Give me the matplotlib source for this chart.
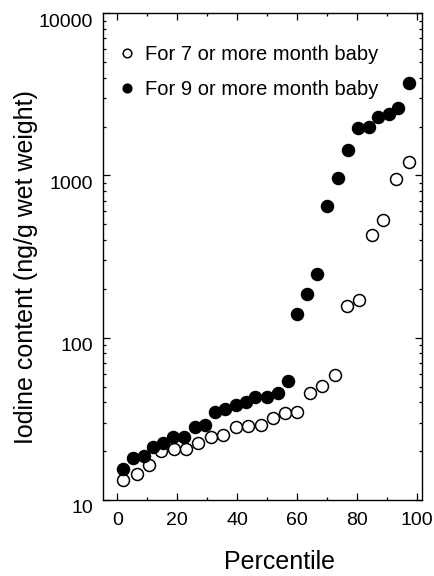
import numpy as np
import matplotlib.pyplot as plt
import matplotlib.transforms as mtransforms
from matplotlib.ticker import LogLocator, NullFormatter, MultipleLocator

plt.rcParams['font.family'] = ['Liberation Sans', 'DejaVu Sans']

# Percentile vs iodine content (ng/g wet weight)
pct_7m = [2.0, 6.4, 10.7, 14.6, 18.9, 22.8, 27.0, 31.2, 35.1, 39.6, 43.7, 47.8,
          52.0, 55.9, 60.1, 64.5, 68.5, 72.8, 76.8, 80.7, 85.0, 88.8, 93.0, 97.5]
iod_7m = [13.3, 14.5, 16.4, 19.9, 20.5, 20.5, 22.3, 24.4, 25.2, 28.0, 28.5, 29.1,
          31.8, 34.2, 34.8, 45.5, 50.6, 58.7, 157, 171, 428, 531, 948, 1216]

pct_9m = [2.0, 5.3, 8.9, 12.0, 15.3, 18.7, 22.3, 25.9, 29.3, 32.6, 36.1, 39.5,
          42.8, 46.1, 50.1, 53.5, 57.0, 60.1, 63.5, 66.8, 70.1, 73.6, 77.1, 80.5,
          83.9, 87.1, 90.6, 93.9, 97.4]
iod_9m = [15.6, 18.1, 18.6, 21.1, 22.5, 24.5, 24.5, 28.1, 28.8, 34.8, 36.6, 38.3,
          40.4, 43.2, 43.2, 45.5, 53.8, 141, 187, 246, 644, 968, 1436, 1967,
          2004, 2291, 2392, 2606, 3727]

labels = ['For 7 or more month baby', 'For 9 or more month baby']

fig = plt.figure(figsize=(4.35, 5.76), dpi=100)
ax = fig.add_axes([0.237, 0.132, 0.732, 0.845])

ax.plot(pct_7m, iod_7m, 'o', ms=8.6, mfc='white', mec='black', mew=1.1, label=labels[0])
ax.plot(pct_9m, iod_9m, 'o', ms=8.6, mfc='black', mec='black', mew=1.1, label=labels[1])

ax.set_yscale('log')
ax.set_ylim(10, 10000)
ax.set_xlim(-4.8, 101.6)
ax.set_yticks([10, 100, 1000, 10000])
ax.set_yticklabels(['10', '100', '1000', '10000'])
ax.yaxis.set_minor_locator(LogLocator(base=10, subs=np.arange(2, 10)))
ax.yaxis.set_minor_formatter(NullFormatter())
ax.xaxis.set_major_locator(MultipleLocator(20))
ax.xaxis.set_minor_locator(MultipleLocator(10))

ax.tick_params(which='both', direction='in', top=True, right=True, width=0.9)
ax.tick_params(which='major', length=5, labelsize=14)
ax.tick_params(which='minor', length=2.5)
ax.tick_params(axis='x', pad=9)
ax.tick_params(axis='y', pad=7)
for s in ax.spines.values():
    s.set_linewidth(1.0)

# y tick labels sit a little below their ticks in the original
shift = mtransforms.ScaledTranslation(0, -5 / 72, fig.dpi_scale_trans)
for lbl in ax.get_yticklabels():
    lbl.set_transform(lbl.get_transform() + shift)

ax.set_xlabel('Percentile', fontsize=18)
ax.set_ylabel('Iodine content (ng/g wet weight)', fontsize=18)
ax.xaxis.set_label_coords(0.555, -0.127)
ax.xaxis.label.set_va('center')
ax.yaxis.set_label_coords(-0.241, 0.479)
ax.yaxis.label.set_va('center')

ax.legend(loc='upper left', frameon=False, fontsize=14.5, markerscale=0.72,
          handlelength=0.8, handletextpad=0.5, labelspacing=0.8,
          borderaxespad=0.2, bbox_to_anchor=(0.012, 0.96))

fig.savefig('out.png', dpi=100)
